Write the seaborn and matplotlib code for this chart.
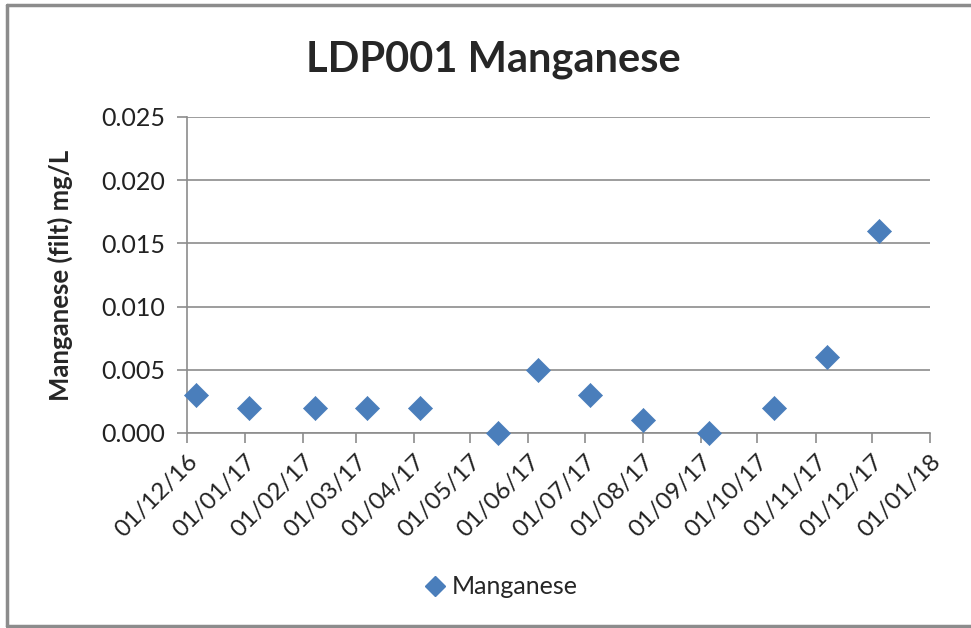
import pandas as pd
import seaborn as sns
import matplotlib.pyplot as plt
import matplotlib.dates as mdates
from matplotlib.lines import Line2D

sample_dates = ["2016-12-06", "2017-01-03", "2017-02-07", "2017-03-07", "2017-04-04",
                "2017-05-16", "2017-06-06", "2017-07-04", "2017-08-01", "2017-09-05",
                "2017-10-10", "2017-11-07", "2017-12-05"]
manganese = [0.003, 0.002, 0.002, 0.002, 0.002, 0.0, 0.005, 0.003, 0.001, 0.0,
             0.002, 0.006, 0.016]
y_ticks = [0.000, 0.005, 0.010, 0.015, 0.020, 0.025]

df = pd.DataFrame({"date": pd.to_datetime(sample_dates), "value": manganese})

sns.set_style("white")
plt.rcParams["font.family"] = ["Lato", "DejaVu Sans"]

fig = plt.figure(figsize=(9.71, 6.28), dpi=100)
ax = fig.add_axes([187 / 971, 1 - 433 / 628, (930 - 187) / 971, (433 - 117) / 628])

sns.scatterplot(data=df, x="date", y="value", ax=ax, marker="D", s=150,
                color="#4a7ebb", edgecolor="#4a7ebb", linewidth=0.5, zorder=3,
                clip_on=False, legend=False)

ax.set_xlim(pd.Timestamp("2016-12-01"), pd.Timestamp("2018-01-01"))
ax.set_ylim(0, 0.025)
ax.set_yticks(y_ticks)
ax.set_yticklabels([f"{v:.3f}" for v in y_ticks], fontsize=18, color="#222222")
ax.xaxis.set_major_locator(mdates.MonthLocator())
ax.xaxis.set_major_formatter(mdates.DateFormatter("%d/%m/%y"))
plt.setp(ax.get_xticklabels(), rotation=45, ha="right", rotation_mode="anchor", fontsize=17.5,
         color="#222222")

ax.grid(axis="y", color="#8c8c8c", linewidth=1.2)
ax.grid(axis="x", visible=False)
for side in ["top", "right"]:
    ax.spines[side].set_visible(False)
for side in ["left", "bottom"]:
    ax.spines[side].set_color("#8c8c8c")
    ax.spines[side].set_linewidth(1.2)
ax.tick_params(axis="y", pad=9)
ax.tick_params(axis="x", pad=6)
ax.tick_params(axis="both", which="major", direction="out", length=7, width=1.2,
               color="#8c8c8c", left=True, bottom=True)

ax.set_xlabel("")
ax.set_ylabel("Manganese (filt) mg/L", fontsize=18.5, fontweight="bold", labelpad=20)
fig.text(493 / 971, 1 - 60 / 628, "LDP001 Manganese", ha="center", va="center",
         fontsize=30, fontweight="bold")

handle = Line2D([], [], marker="D", color="#4a7ebb", linestyle="none", markersize=10)
fig.legend([handle], ["Manganese"], loc="center", bbox_to_anchor=(500 / 971, 1 - 587 / 628),
           frameon=False, fontsize=18, handletextpad=0.2, handlelength=1.0)

# chart frame (open on the right side, as in the reference)
border = dict(color="#8c8c8c", linewidth=2.5, transform=fig.transFigure)
fig.add_artist(Line2D([7 / 971, 1], [1 - 5 / 628, 1 - 5 / 628], **border))
fig.add_artist(Line2D([7 / 971, 7 / 971], [1 - 5 / 628, 1 - 626 / 628], **border))
fig.add_artist(Line2D([7 / 971, 1], [1 - 626 / 628, 1 - 626 / 628], **border))

fig.savefig("out.png", dpi=100)
